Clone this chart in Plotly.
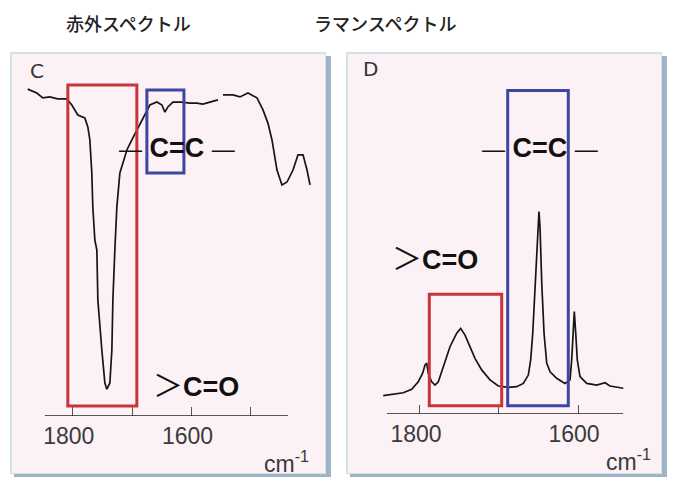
import plotly.graph_objects as go

W, H = 673, 479

# ---------------- data ----------------
ir_wavenumber = [1876, 1860.7, 1850.6, 1838.8, 1825.3, 1810.1, 1801.7, 1791.6, 1779.8, 1774.7,
                 1771.3, 1768, 1766.3, 1762.9, 1759.5, 1757.8, 1751.1, 1746, 1742.7, 1737.6,
                 1734.2, 1732.5, 1729.2, 1725.8, 1720.7, 1715.7, 1708.9, 1700.5, 1692.1, 1682,
                 1670.2, 1658.3, 1649.9, 1644.9, 1639.8, 1631.4, 1616.2, 1602.7, 1591.1, 1580.8,
                 1569, 1555.5, None, 1547, 1530.2, 1518.4, 1504.9, 1489.7, 1479.6, 1471.2,
                 1464.4, 1456, 1447.6, 1439.1, 1429, 1420.6, 1412.1, 1405.4, 1400.3]
ir_transmittance = [101.0, 99.8, 98.3, 98.6, 98.0, 98.0, 96.1, 93.0, 92.1, 89.3,
                    85.3, 75.1, 64.6, 54.4, 51.3, 35.8, 20.4, 10.2, 8.3, 10.2,
                    20.4, 35.8, 51.3, 64.6, 75.1, 78.2, 82.2, 85.3, 88.4, 92.1,
                    96.1, 97.0, 96.1, 93.9, 95.5, 97.0, 97.0, 96.7, 96.7, 96.4,
                    97.0, 97.7, None, 99.2, 99.2, 98.6, 99.8, 98.3, 94.6, 90.5,
                    85.3, 76.0, 71.4, 72.3, 76.0, 80.7, 80.7, 76.0, 71.4]

raman_wavenumber = [1846.5, 1833.8, 1821.1, 1810.5, 1802.2, 1796.6, 1793.7, 1791.5, 1789.5, 1785.2,
                    1781, 1776.8, 1770.5, 1762, 1753.5, 1748.5, 1743, 1736.7, 1730.4, 1721.9,
                    1711.4, 1700.9, 1688.2, 1677.6, 1669.2, 1662.9, 1659.9, 1657.3, 1655.3, 1653.2,
                    1652.3, 1650.3, 1649.4, 1648.1, 1646.8, 1645.9, 1643, 1639.6, 1635.4, 1627,
                    1616.5, 1610.1, 1608, 1606, 1604.7, 1602.9, 1600.9, 1597.5, 1589, 1576.3,
                    1565.8, 1559.5, 1542.7]
raman_intensity = [5.7, 6.2, 6.6, 7.7, 10.0, 12.7, 15.2, 15.8, 12.6, 10.0,
                   9.0, 10.0, 14.7, 20.9, 25.1, 26.6, 24.5, 20.9, 17.3, 13.7,
                   10.6, 8.7, 8.3, 8.5, 9.5, 12.1, 16.8, 25.1, 35.4, 44.7,
                   47.9, 58.2, 62.9, 58.2, 47.9, 40.7, 25.1, 15.8, 13.1, 11.1,
                   9.5, 10.6, 16.8, 25.1, 31.8, 25.1, 16.8, 11.6, 9.5, 9.0,
                   9.7, 8.7, 8.0]

major_ticks = [1800, 1600]
major_labels = ["1800", "1600"]
minor_ticks = [1700, 1500]
panel_titles = ["赤外スペクトル", "ラマンスペクトル"]
panel_letters = ["C", "D"]

# highlighted bands (wavenumber range, value range)
ir_co_band = (1808.4, 1692.1, 3.1, 102.3)
ir_cc_band = (1675.2, 1612.8, 75.1, 100.7)
ra_co_band = (1788.2, 1696.6, 2.6, 37.2)
ra_cc_band = (1689.0, 1612.3, 2.6, 100.5)

# ---------------- helpers ----------------
def px(x):
    return x / W

def py(y):
    return 1 - y / H

RED = "#c8333c"
BLUE = "#3d46a1"
PINK = "#fcf2f5"
BORDER = "#d4dfe9"
SHADOW = "#9fb3c7"

fig = go.Figure()
fig.add_trace(go.Scatter(x=ir_wavenumber, y=ir_transmittance, mode="lines",
                         line=dict(color="#151515", width=1.7), connectgaps=False,
                         xaxis="x", yaxis="y", hoverinfo="skip"))
fig.add_trace(go.Scatter(x=raman_wavenumber, y=raman_intensity, mode="lines",
                         line=dict(color="#151515", width=1.7),
                         xaxis="x2", yaxis="y2", hoverinfo="skip"))

axis_common = dict(showgrid=False, zeroline=False, showline=False,
                   ticks="inside", ticklen=9, tickwidth=1, tickcolor="#555",
                   tickmode="array", tickvals=major_ticks, ticktext=major_labels,
                   minor=dict(tickmode="array", tickvals=minor_ticks, ticks="inside",
                              ticklen=9, tickwidth=1, tickcolor="#555", showgrid=False),
                   tickfont=dict(family="Liberation Sans", size=23, color="#3a3a3a"),
                   ticklabelshift=4, ticklabelstandoff=4, fixedrange=True)
yaxis_common = dict(showgrid=False, zeroline=False, showline=False, showticklabels=False,
                    ticks="", range=[0, 110], fixedrange=True)

fig.update_layout(
    width=W, height=H, margin=dict(l=0, r=0, t=0, b=0),
    paper_bgcolor="white", plot_bgcolor="rgba(0,0,0,0)", showlegend=False,
    xaxis=dict(domain=[px(20), px(320)], range=[1889, 1383.5], anchor="y", **axis_common),
    yaxis=dict(domain=[py(416), py(60)], anchor="x", **yaxis_common),
    xaxis2=dict(domain=[px(360), px(650)], range=[1875.9, 1508.9], anchor="y2", **axis_common),
    yaxis2=dict(domain=[py(414), py(60)], anchor="x2", **yaxis_common),
)

shapes = []
# panels (background frames)
for x0, x1 in [(10, 326), (346, 662)]:
    shapes.append(dict(type="rect", xref="paper", yref="paper", layer="below",
                       x0=px(x0 + 4), x1=px(x1 + 5), y0=py(477), y1=py(56),
                       fillcolor=SHADOW, line=dict(width=0)))
    shapes.append(dict(type="rect", xref="paper", yref="paper", layer="below",
                       x0=px(x0), x1=px(x1), y0=py(474), y1=py(52),
                       fillcolor=BORDER, line=dict(width=0)))
    shapes.append(dict(type="rect", xref="paper", yref="paper", layer="below",
                       x0=px(x0 + 2), x1=px(x1 - 1), y0=py(473), y1=py(54),
                       fillcolor=PINK, line=dict(width=0)))

# axis lines
shapes.append(dict(type="line", xref="x", yref="y", x0=1847.2, x1=1437.4, y0=0, y1=0,
                   line=dict(color="#222", width=1.6)))
shapes.append(dict(type="line", xref="x2", yref="y2", x0=1841.8, x1=1543, y0=0, y1=0,
                   line=dict(color="#222", width=1.6)))

# highlight boxes
for (xa, ya, band, col) in [("x", "y", ir_co_band, RED), ("x", "y", ir_cc_band, BLUE),
                            ("x2", "y2", ra_co_band, RED), ("x2", "y2", ra_cc_band, BLUE)]:
    shapes.append(dict(type="rect", xref=xa, yref=ya, x0=band[0], x1=band[1],
                       y0=band[2], y1=band[3], line=dict(color=col, width=3),
                       fillcolor="rgba(0,0,0,0)", layer="above"))
fig.update_layout(shapes=shapes)

ann = []
# titles
for cx, t in zip([128, 385], panel_titles):
    ann.append(dict(text=t, x=px(cx), y=py(23), xref="paper", yref="paper",
                    showarrow=False, xanchor="center", yanchor="middle",
                    font=dict(family="Noto Sans CJK JP", size=18, color="#222", weight=500)))
# panel letters
for (cx, cy), t in zip([(37, 71), (370, 69)], panel_letters):
    ann.append(dict(text=t, x=px(cx), y=py(cy), xref="paper", yref="paper",
                    showarrow=False, xanchor="center", yanchor="middle",
                    font=dict(family="DejaVu Sans", size=20, color="#333")))
# cm-1 labels
for cx, cy in [(286, 462), (628, 460)]:
    ann.append(dict(text="cm<sup>-1</sup>", x=px(cx), y=py(cy), xref="paper", yref="paper",
                    showarrow=False, xanchor="center", yanchor="middle",
                    font=dict(family="Liberation Sans", size=23, color="#3a3a3a")))

cc_text = ("<span style='font-size:23px;font-weight:normal'>—</span> <b>C=C</b> "
           "<span style='font-size:23px;font-weight:normal'>—</span>")
co_text = ("<span style='font-family:Noto Sans CJK JP;font-weight:normal;font-size:30px'>＞</span>"
           "<b>C=O</b>")
for (cx, cy), t in zip([(177, 148), (540, 148), (196, 383), (435, 256)],
                       [cc_text, cc_text, co_text, co_text]):
    ann.append(dict(text=t, x=px(cx), y=py(cy), xref="paper", yref="paper",
                    showarrow=False, xanchor="center", yanchor="middle",
                    font=dict(family="Liberation Sans", size=27, color="#111")))
fig.update_layout(annotations=ann)

fig.write_html("out.html", config={"displayModeBar": False},
               post_script="document.body.style.margin='0';document.body.style.overflow='hidden';")
